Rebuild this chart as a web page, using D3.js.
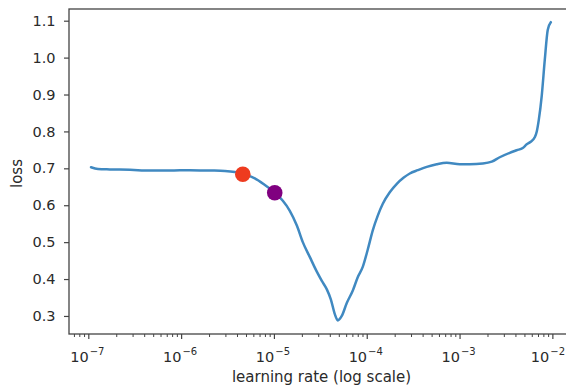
<!DOCTYPE html>
<html><head><meta charset="utf-8">
<script src="https://cdn.jsdelivr.net/npm/d3@7"></script>
<style>body{margin:0;background:#fff}svg{display:block}text{font-family:"DejaVu Sans",sans-serif;fill:#2a2a2a}</style>
</head><body><svg id="c" width="566" height="392"></svg>
<script>
// log10(learning rate)
const logLR = [-6.971,-6.896,-6.767,-6.551,-6.336,-6.121,-5.905,-5.690,-5.528,-5.421,-5.335,-5.206,-5.098,-4.990,-4.904,-4.829,-4.753,-4.689,-4.614,-4.538,-4.484,-4.430,-4.387,-4.344,-4.312,-4.269,-4.215,-4.150,-4.097,-4.043,-3.989,-3.935,-3.881,-3.827,-3.752,-3.676,-3.601,-3.536,-3.450,-3.353,-3.246,-3.138,-2.998,-2.890,-2.750,-2.653,-2.567,-2.459,-2.384,-2.319,-2.276,-2.233,-2.190,-2.168,-2.147,-2.114,-2.082,-2.050,-2.017];
const loss = [0.703,0.698,0.697,0.696,0.694,0.694,0.695,0.694,0.693,0.690,0.684,0.673,0.655,0.634,0.612,0.585,0.545,0.500,0.460,0.420,0.395,0.372,0.345,0.305,0.288,0.300,0.335,0.369,0.405,0.433,0.480,0.532,0.572,0.604,0.635,0.658,0.675,0.686,0.695,0.704,0.711,0.715,0.711,0.711,0.713,0.718,0.730,0.742,0.749,0.755,0.765,0.772,0.784,0.800,0.830,0.898,0.993,1.075,1.096];
const markerLR = [4.62e-6, 1.02e-5];
const markerLoss = [0.684, 0.634];
const markerColors = ["#ee3b1f", "#800080"];
const yTicks = [0.3,0.4,0.5,0.6,0.7,0.8,0.9,1.0,1.1];
const xTickExps = [-7,-6,-5,-4,-3,-2];
const xLabel = "learning rate (log scale)";
const yLabel = "loss";

const svg = d3.select("#c");
const W = 566;
const L = 69, R = 570, T = 9, B = 334;
const x = d3.scaleLog().domain([Math.pow(10,-7.208), Math.pow(10,-1.81)]).range([L, R]);
const y = d3.scaleLinear().domain([0.2511, 1.1317]).range([B, T]);

const data = logLR.map((v,i)=>({lr:Math.pow(10,v), loss:loss[i]}));

// line
svg.append("path").datum(data)
  .attr("fill","none").attr("stroke","#4089c1").attr("stroke-width",2.5)
  .attr("stroke-linejoin","round").attr("stroke-linecap","round")
  .attr("d", d3.line().x(d=>x(d.lr)).y(d=>y(d.loss)).curve(d3.curveMonotoneX));

// markers
markerLR.forEach((v,i)=>{
  svg.append("circle").attr("cx",x(v)).attr("cy",y(markerLoss[i])).attr("r",7.8).attr("fill",markerColors[i]);
});

// y axis
const yAxis = d3.axisLeft(y).tickValues(yTicks).tickSize(5).tickPadding(8.5).tickFormat(d3.format(".1f"));
const gy = svg.append("g").attr("transform",`translate(${L},0)`).call(yAxis);
gy.select(".domain").remove();
gy.selectAll("line").attr("stroke","#444").attr("stroke-width",1.2);
gy.selectAll("text").attr("font-size",14.5).attr("fill","#2a2a2a").attr("font-family","DejaVu Sans");

// x axis major
const majors = xTickExps.map(e=>Math.pow(10,e));
const xAxis = d3.axisBottom(x).tickValues(majors).tickSize(5).tickFormat("");
const gx = svg.append("g").attr("transform",`translate(0,${B})`).call(xAxis);
gx.select(".domain").remove();
gx.selectAll("line").attr("stroke","#444").attr("stroke-width",1.2);
// minor ticks
const minors = [];
for (let e=-8;e<=-2;e++) for (let k=2;k<=9;k++){const v=k*Math.pow(10,e); if(x(v)>=L && x(v)<=R) minors.push(v);}
const xMinor = d3.axisBottom(x).tickValues(minors).tickSize(3).tickFormat("");
const gm = svg.append("g").attr("transform",`translate(0,${B})`).call(xMinor);
gm.select(".domain").remove();
gm.selectAll("line").attr("stroke","#444").attr("stroke-width",1);

// x tick labels with superscripts (kept inside the window)
xTickExps.forEach(e=>{
  const t = svg.append("text").attr("x",x(Math.pow(10,e))-1).attr("y",B+27.5).attr("text-anchor","middle").attr("font-size",14.5);
  t.append("tspan").text("10");
  t.append("tspan").attr("dx",1).attr("dy",-7).attr("font-size",10).text("\u2212"+Math.abs(e));
  const bb = t.node().getBBox();
  if (bb.x + bb.width > W - 1) t.attr("x", +t.attr("x") - (bb.x + bb.width - (W - 1)));
});

// frame
svg.append("rect").attr("x",L).attr("y",T).attr("width",R-L).attr("height",B-T)
  .attr("fill","none").attr("stroke","#444").attr("stroke-width",1.3);

// labels
svg.append("text").attr("x",(L+R)/2+2).attr("y",382).attr("text-anchor","middle").attr("font-size",15).text(xLabel);
svg.append("text").attr("transform",`translate(22,${(T+B)/2+2}) rotate(-90)`).attr("text-anchor","middle").attr("font-size",15).text(yLabel);
</script></body></html>
